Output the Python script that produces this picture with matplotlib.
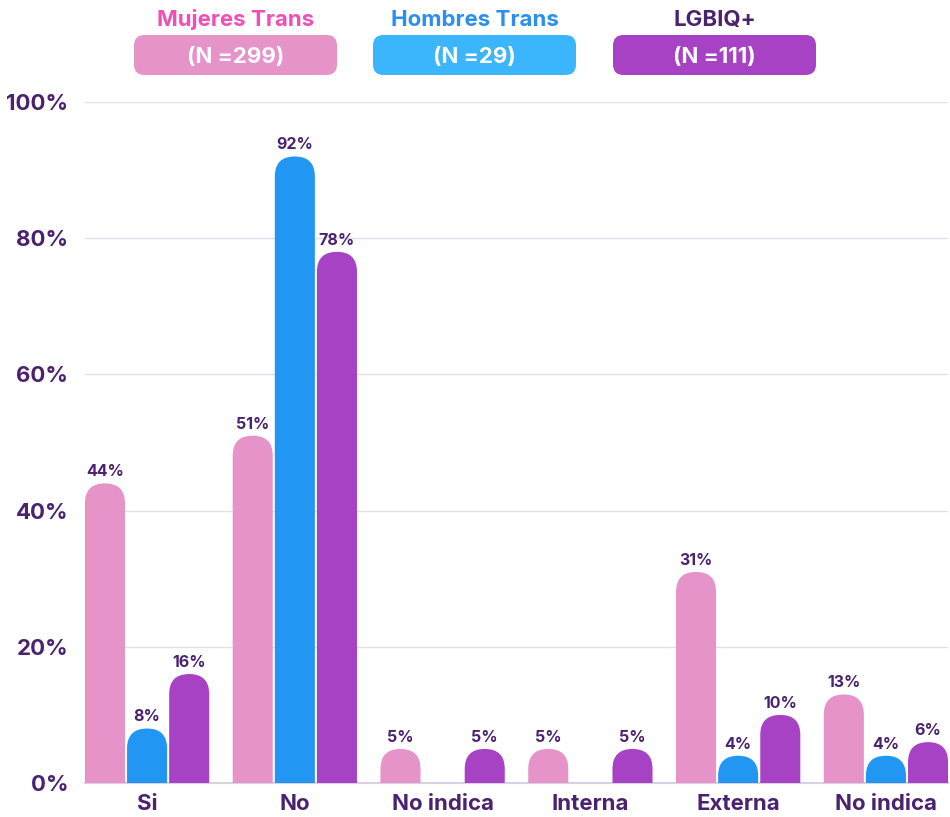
import matplotlib
matplotlib.use("Agg")
import matplotlib.pyplot as plt
from matplotlib.patches import FancyBboxPatch
import numpy as np

plt.rcParams['font.family'] = ['Inter', 'DejaVu Sans']

categorias = ['Si', 'No', 'No indica', 'Interna', 'Externa', 'No indica']
mujeres = [44, 51, 5, 5, 31, 13]
hombres = [8, 92, 0, 0, 4, 4]
lgbiq = [16, 78, 5, 5, 10, 6]

series = ['Mujeres Trans', 'Hombres Trans', 'LGBIQ+']
muestras = ['(N =299)', '(N =29)', '(N =111)']
col_barras = ['#e593c8', '#2196f3', '#a742c4']
col_cajas = ['#e593c8', '#3bb5fb', '#a742c4']
col_titulos = ['#f04fb6', '#2a8ff0', '#4a2270']
texto = '#4a2270'

fig = plt.figure(figsize=(9.5, 8.17), dpi=100)
ax = fig.add_axes([85/950, 1-783/817, 863/950, (783-102)/817])

x = np.arange(len(categorias))
ancho = 0.271
paso = 0.285
ax.set_xlim(-0.42, 5.42)
ax.set_ylim(0, 100)

# tamaño de un pixel en datos, para redondear las barras
px_x = 5.84 / 863
px_y = 100 / 681
radio = 20

for k, vals in enumerate([mujeres, hombres, lgbiq]):
    bars = ax.bar(x + (k-1)*paso, vals, ancho, color=col_barras[k])
    for b, v in zip(bars, vals):
        b.set_visible(False)
        if v <= 0:
            continue
        r = min(radio, v/px_y)
        p = FancyBboxPatch((b.get_x(), -r*px_y), b.get_width(), v + r*px_y,
                           boxstyle=f"round,pad=0,rounding_size={r*px_x}",
                           mutation_aspect=px_y/px_x,
                           fc=col_barras[k], ec='none', zorder=3)
        ax.add_patch(p)
        ax.text(b.get_x()+b.get_width()/2, v+0.6, f'{v}%', ha='center', va='bottom',
                fontsize=11.5, fontweight='bold', color=texto, zorder=4)

ax.set_yticks([0, 20, 40, 60, 80, 100])
ax.set_yticklabels([f'{t}%' for t in [0, 20, 40, 60, 80, 100]])
ax.set_xticks(x)
ax.set_xticklabels(categorias)
ax.tick_params(length=0, labelsize=16, labelcolor=texto)
ax.tick_params(axis='y', pad=12)
ax.tick_params(axis='x', pad=8)
for lab in ax.get_xticklabels() + ax.get_yticklabels():
    lab.set_fontweight('bold')
for s in ['top', 'right', 'left']:
    ax.spines[s].set_visible(False)
ax.spines['bottom'].set_color('#d6d3e3')
ax.spines['bottom'].set_linewidth(1.5)
ax.grid(axis='y', color='#e2def0', lw=1)
ax.set_axisbelow(True)
ax.patch.set_alpha(0)

# leyenda con cajas
cajas_x = [134, 373, 613]
for k in range(3):
    x0 = cajas_x[k]/950
    w = 203/950
    y0 = 1-75/817
    h = 40/817
    caja = FancyBboxPatch((x0, y0), w, h, boxstyle="round,pad=0,rounding_size=0.011",
                          mutation_aspect=950/817, transform=fig.transFigure,
                          fc=col_cajas[k], ec='none')
    fig.patches.append(caja)
    fig.text(x0+w/2, y0+h/2 - 0.002, muestras[k], ha='center', va='center', color='white',
             fontsize=16, fontweight='bold')
    fig.text(x0+w/2, 1-20/817, series[k], ha='center', va='center', color=col_titulos[k],
             fontsize=16, fontweight='bold')

fig.savefig('out.png', dpi=100)
